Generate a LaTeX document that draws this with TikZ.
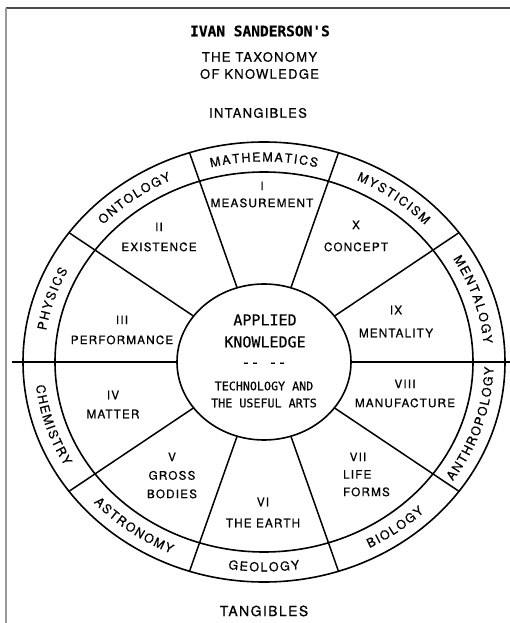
\documentclass[tikz,border=0pt]{standalone}
\usepackage{fontspec}
\newfontfamily\labelfont{TeX Gyre Heros}[LetterSpace=10, FakeBold=0.6]
\newfontfamily\letterfont{DejaVu Sans Mono}[FakeBold=0.5]
\usetikzlibrary{decorations.text}

% band letters are spread by a narrow word space
\newcommand\bandfont{\labelfont\fontsize{12.5}{15}\selectfont\fontdimen2\font=1.6pt\fontdimen3\font=0pt\fontdimen4\font=0pt}

\tikzstyle{heading} = [font=\labelfont\fontsize{13}{17}\selectfont, align=center, inner sep=0pt]
\tikzstyle{sector} = [font=\labelfont\fontsize{11.7}{20}\selectfont, align=center, inner sep=0pt]
\tikzstyle{hub} = [font=\letterfont\fontsize{15}{22}\selectfont, align=center, inner sep=0pt]
\tikzstyle{hubsmall} = [font=\letterfont\fontsize{11.7}{17}\selectfont, align=center, inner sep=0pt]
\tikzstyle{ring} = [line width=1.6pt]
\tikzstyle{spoke} = [line width=1.5pt]
\tikzstyle{band} = [decorate, decoration={text along path, text align=center}]

\begin{document}
\begin{tikzpicture}[x=1pt,y=1pt]
	\useasboundingbox (-264,-261) rectangle (246,362);
	
	% frame
	\draw[line width=1.5pt, black!70] (-258,354) -- (246,354);
	\draw[line width=2pt, black!40] (-258,354) -- (-258,-261);
	
	% titles
	\node[heading, font=\letterfont\bfseries\fontsize{14.5}{17}\selectfont] (author) at (-4,331) {IVAN SANDERSON'S};
	\node[heading] (title) at (-4.5,296.5) {THE TAXONOMY\\OF KNOWLEDGE};
	\node[heading] (intang) at (-6,249) {INTANGIBLES};
	\node[heading, font=\labelfont\fontsize{14}{17}\selectfont] (tang) at (0,-249) {TANGIBLES};
	
	% rings
	\draw[ring] (0,0) ellipse [x radius=241, y radius=220];
	\draw[ring] (0,0) ellipse [x radius=209, y radius=190];
	\draw[ring] (0,0) ellipse [x radius=87, y radius=78];
	
	% spokes
	\draw[spoke] (-252,0) -- (-87,0);
	\draw[spoke] (87,0) -- (250,0);
	\draw[spoke] (36:87 and 78) -- (36:241 and 220);
	\draw[spoke] (72:87 and 78) -- (72:241 and 220);
	\draw[spoke] (108:87 and 78) -- (108:241 and 220);
	\draw[spoke] (144:87 and 78) -- (144:241 and 220);
	\draw[spoke] (216:87 and 78) -- (216:241 and 220);
	\draw[spoke] (252:87 and 78) -- (252:241 and 220);
	\draw[spoke] (288:87 and 78) -- (288:241 and 220);
	\draw[spoke] (324:87 and 78) -- (324:241 and 220);
	
	% centre
	\node[hub] (applied) at (1,31) {APPLIED\\KNOWLEDGE};
	\node[hub] (dash) at (0,-3) {-{}- -{}-};
	\node[hubsmall] (useful) at (0,-32.5) {TECHNOLOGY AND\\THE USEFUL ARTS};
	
	% sectors
	\node[sector] (measure) at (-2,167.5) {I\\[-3pt]MEASUREMENT};
	\node[sector] (exist) at (-105,125) {II\\EXISTENCE};
	\node[sector] (concept) at (92,126) {X\\[2pt]CONCEPT};
	\node[sector] (perform) at (-142,32) {III\\PERFORMANCE};
	\node[sector] (mental) at (132,40.5) {IX\\[3pt]MENTALITY};
	\node[sector] (matter) at (-151,-42.5) {IV\\[-1pt]MATTER};
	\node[sector] (manuf) at (141,-31.5) {VIII\\[-1pt]MANUFACTURE};
	\node[sector] (gross) at (-92,-113.5) {V\\[-1.5pt]GROSS\\[-1.5pt]BODIES};
	\node[sector, align=left] (life) at (102.5,-112.5) {\hphantom{L}VII\\[-2.5pt]LIFE\\[-2.5pt]FORMS};
	\node[sector] (earth) at (-1,-150.5) {VI\\[1pt]THE EARTH};
	
	% outer band, upper half
	\path[band, decoration={text={|\bandfont|P H Y S I C S}}] (180:220.5 and 200.5) arc[start angle=180, end angle=144, x radius=220.5, y radius=200.5];
	\path[band, decoration={text={|\bandfont|O N T O L O G Y}}] (144:220.5 and 200.5) arc[start angle=144, end angle=108, x radius=220.5, y radius=200.5];
	\path[band, decoration={text={|\bandfont|M A T H E M A T I C S}}] (108:220.5 and 200.5) arc[start angle=108, end angle=72, x radius=220.5, y radius=200.5];
	\path[band, decoration={text={|\bandfont|M Y S T I C I S M}}] (72:220.5 and 200.5) arc[start angle=72, end angle=36, x radius=220.5, y radius=200.5];
	\path[band, decoration={text={|\bandfont|M E N T A L O G Y}}] (36:220.5 and 200.5) arc[start angle=36, end angle=0, x radius=220.5, y radius=200.5];
	
	% outer band, lower half
	\path[band, decoration={text={|\bandfont|C H E M I S T R Y}}] (180:229.5 and 209.5) arc[start angle=180, end angle=216, x radius=229.5, y radius=209.5];
	\path[band, decoration={text={|\bandfont|A S T R O N O M Y}}] (216:229.5 and 209.5) arc[start angle=216, end angle=252, x radius=229.5, y radius=209.5];
	\path[band, decoration={text={|\bandfont|G E O L O G Y}}] (252:229.5 and 209.5) arc[start angle=252, end angle=288, x radius=229.5, y radius=209.5];
	\path[band, decoration={text={|\bandfont|B I O L O G Y}}] (288:229.5 and 209.5) arc[start angle=288, end angle=324, x radius=229.5, y radius=209.5];
	\path[band, decoration={text={|\bandfont|A N T H R O P O L O G Y}}] (324:229.5 and 209.5) arc[start angle=324, end angle=360, x radius=229.5, y radius=209.5];
\end{tikzpicture}
\end{document}
